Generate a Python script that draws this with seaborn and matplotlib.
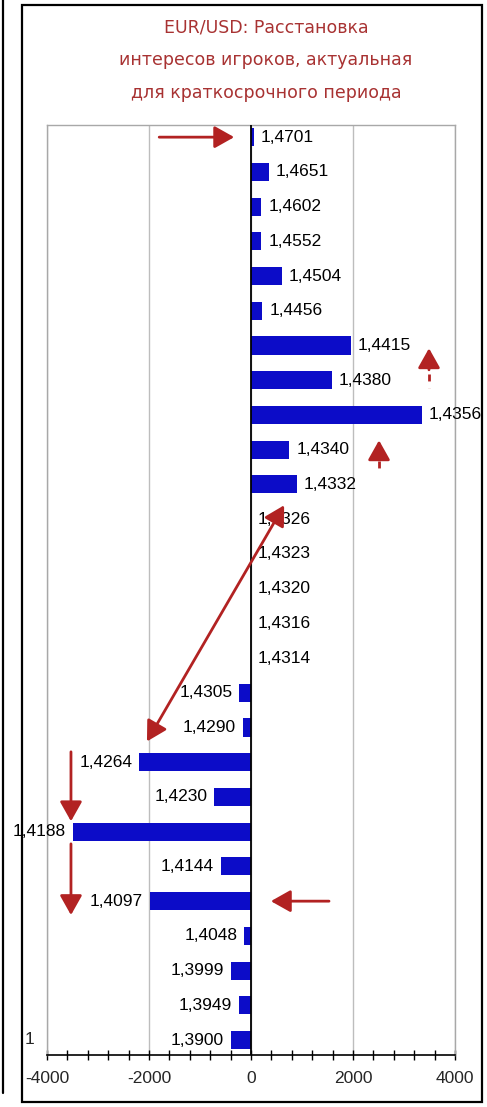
import matplotlib
matplotlib.use("Agg")
import matplotlib.pyplot as plt
from matplotlib.ticker import FixedLocator, MultipleLocator
from matplotlib.patches import Rectangle
from matplotlib.lines import Line2D
import seaborn as sns
import pandas as pd

# --- данные ---
levels = ["1,4701", "1,4651", "1,4602", "1,4552", "1,4504", "1,4456", "1,4415",
          "1,4380", "1,4356", "1,4340", "1,4332", "1,4326", "1,4323", "1,4320",
          "1,4316", "1,4314", "1,4305", "1,4290", "1,4264", "1,4230", "1,4188",
          "1,4144", "1,4097", "1,4048", "1,3999", "1,3949", "1,3900"]
volumes = [50, 350, 200, 200, 600, 220, 1960,
           1590, 3350, 750, 900, 0, 0, 0,
           0, 0, -230, -165, -2190, -720, -3500,
           -590, -1980, -130, -400, -230, -400]
x_ticks = [-4000, -2000, 0, 2000, 4000]
title_lines = ["EUR/USD: Расстановка",
               "интересов игроков, актуальная",
               "для краткосрочного периода"]

# сплошные стрелки-пометки: (откуда, куда, стиль)
arrows = [
    ((-1800, 0.0), (-330, 0.0), "-|>"),
    ((650, 10.6), (-2040, 17.4), "<|-|>"),
    ((-3530, 17.7), (-3530, 19.7), "-|>"),
    ((-3530, 20.35), (-3530, 22.4), "-|>"),
    ((1530, 22.0), (390, 22.0), "-|>"),
]
# пунктирные стрелки вверх: (x, острие, основание головки, низ хвоста)
dashed_arrows = [
    (3490, 6.08, 6.70, 7.23),
    (2510, 8.73, 9.20, 9.65),
]

sns.set_theme(style="white")
plt.rcParams['font.family'] = ['Liberation Sans', 'DejaVu Sans']

W, H = 487, 1107
fig = plt.figure(figsize=(W / 100, H / 100), dpi=100)
fig.patch.set_facecolor("white")
ax = fig.add_axes([47 / W, 1 - 1055 / H, (455 - 47) / W, (1055 - 125) / H])

df = pd.DataFrame({"level": levels, "volume": volumes})
sns.barplot(data=df, x="volume", y="level", orient="h", color="#0C0CC8",
            saturation=1, width=0.52, errorbar=None, linewidth=0, ax=ax)

ax.bar_label(ax.containers[0], labels=levels, padding=5, fontsize=12.5, color="black")

ax.set_xlim(-4000, 4000)
ax.set_ylim(26.43, -0.35)
ax.set_xlabel("")
ax.set_ylabel("")

ax.xaxis.set_major_locator(FixedLocator(x_ticks))
ax.xaxis.set_minor_locator(MultipleLocator(400))
ax.set_xticklabels([str(t) for t in x_ticks])
ax.tick_params(axis="x", which="both", bottom=True, direction="inout",
               length=7, width=1, color="black", labelsize=12.5, pad=8)
ax.tick_params(axis="y", left=False, labelleft=False)

ax.grid(axis="x", which="major", color="#BDBDBD", lw=1)
ax.set_axisbelow(True)
ax.axvline(0, color="black", lw=1.3, zorder=3)

for side in ["top", "left", "right"]:
    ax.spines[side].set_color("#A8A8A8")
    ax.spines[side].set_linewidth(1)
ax.spines["bottom"].set_color("black")
ax.spines["bottom"].set_linewidth(1.2)

red = "#B22222"
head = ",head_length=0.8,head_width=0.45"
for start, end, style in arrows:
    ax.annotate("", xy=end, xytext=start, annotation_clip=False,
                arrowprops=dict(arrowstyle=style + head, color=red, lw=2,
                                mutation_scale=15, shrinkA=0, shrinkB=0))

for x, tip, base, bottom in dashed_arrows:
    ax.annotate("", xy=(x, tip), xytext=(x, base), annotation_clip=False,
                arrowprops=dict(arrowstyle="-|>" + head, color=red, lw=2,
                                mutation_scale=15, shrinkA=0, shrinkB=0))
    ax.plot([x, x], [base + 0.12, bottom], color=red, lw=2, ls=(0, (2.5, 2.5)),
            solid_capstyle="butt", dash_capstyle="butt")

title_y = [27, 60, 93]
for line, yp in zip(title_lines, title_y):
    fig.text(266 / W, 1 - yp / H, line, ha="center", va="center",
             fontsize=12.5, color="#A83232", family="DejaVu Sans")

fig.text(30 / W, 1 - 1040 / H, "1", ha="center", va="center", fontsize=12.5)

# рамка вокруг диаграммы и кусок соседней картинки слева
fig.add_artist(Rectangle((22 / W, 1 - 1102 / H), 460 / W, 1097 / H,
                         transform=fig.transFigure, fill=False, ec="black", lw=1.6))
fig.add_artist(Line2D([3 / W, 3 / W], [1 - 1093 / H, 1], transform=fig.transFigure,
                      color="black", lw=1.6))

fig.savefig("out.png", dpi=100)
